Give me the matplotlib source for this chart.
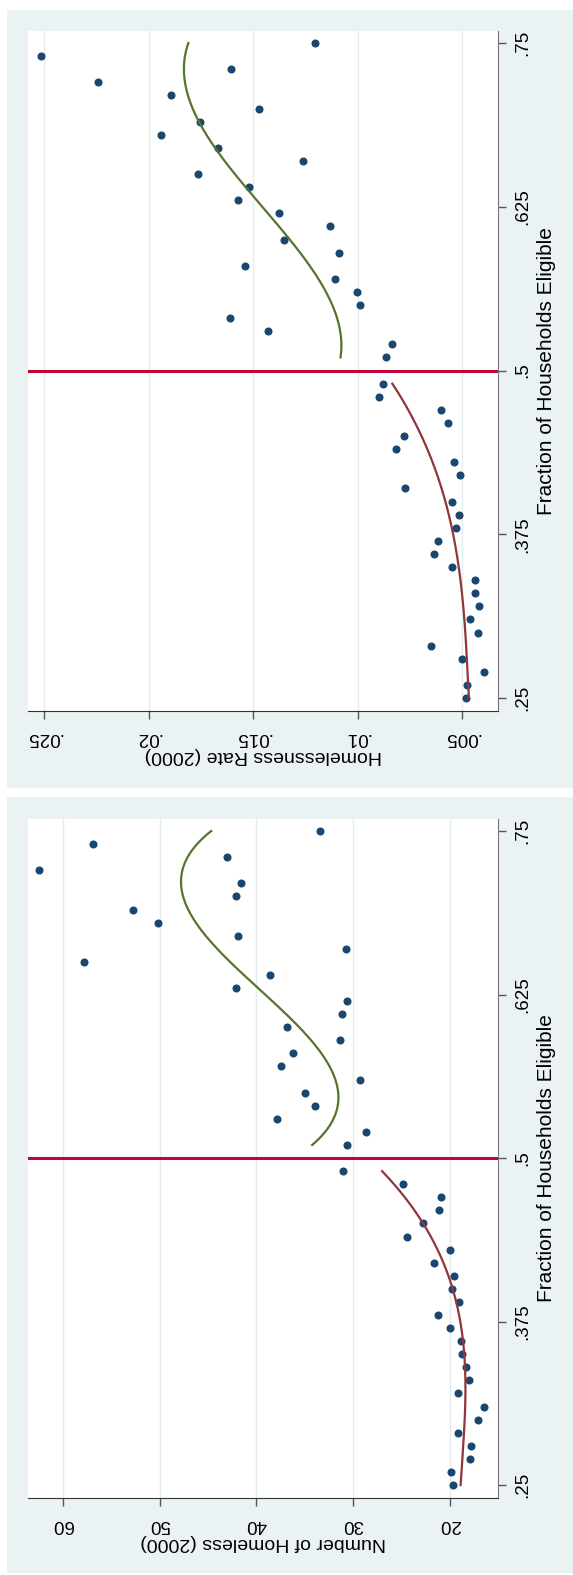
import matplotlib
matplotlib.use("Agg")
import matplotlib.pyplot as plt
from matplotlib.patches import Rectangle
import numpy as np

plt.rcParams['font.family'] = ['Liberation Sans', 'DejaVu Sans']

# fraction of households eligible (bins)
frac_below = [0.25, 0.26, 0.27, 0.28, 0.29, 0.30, 0.31, 0.32, 0.33, 0.34, 0.35, 0.36, 0.37,
              0.38, 0.39, 0.40, 0.41, 0.42, 0.43, 0.44, 0.45, 0.46, 0.47, 0.48, 0.49]
frac_above = [0.51, 0.52, 0.53, 0.54, 0.55, 0.56, 0.57, 0.58, 0.59, 0.60, 0.61, 0.62, 0.63,
              0.64, 0.65, 0.66, 0.67, 0.68, 0.69, 0.70, 0.71, 0.72, 0.73, 0.74, 0.75]

# homelessness rate (2000)
rate_below = [0.00483, 0.00474, 0.00393, 0.00500, 0.00648, 0.00425, 0.00463, 0.00420, 0.00439,
              0.00439, 0.00549, 0.00634, 0.00614, 0.00528, 0.00514, 0.00549, 0.00771, 0.00509,
              0.00540, 0.00818, 0.00779, 0.00565, 0.00601, 0.00898, 0.00879]
rate_above = [0.00862, 0.00835, 0.01426, 0.01609, 0.00987, 0.01001, 0.01110, 0.01538, 0.01087,
              0.01351, 0.01131, 0.01377, 0.01572, 0.01520, 0.01765, 0.01260, 0.01667, 0.01939,
              0.01752, 0.01473, 0.01894, 0.02243, 0.01607, 0.02517, 0.01204]

# number of homeless (2000)
num_below = [19.62, 19.89, 17.85, 17.81, 19.13, 17.06, 16.49, 19.13, 18.00, 18.30, 18.75, 18.87,
             19.96, 21.25, 19.02, 19.74, 19.58, 21.62, 19.96, 24.45, 22.75, 21.06, 20.87, 24.87,
             31.06]
num_above = [30.57, 28.68, 37.81, 33.89, 34.91, 29.25, 37.40, 36.23, 31.36, 36.79, 31.13, 30.57,
             42.11, 38.57, 57.85, 30.75, 41.92, 50.15, 52.75, 42.11, 41.58, 62.42, 43.06, 56.83,
             33.36]

frac_ticks = [0.25, 0.375, 0.5, 0.625, 0.75]
frac_ticklabels = ['.25', '.375', '.5', '.625', '.75']
rate_ticks = [0.005, 0.01, 0.015, 0.02, 0.025]
rate_ticklabels = ['.005', '.01', '.015', '.02', '.025']
num_ticks = [20, 30, 40, 50, 60]
num_ticklabels = ['20', '30', '40', '50', '60']

W, H = 573, 1575
fig = plt.figure(figsize=(W / 100, H / 100), dpi=100)
fig.patch.set_facecolor('white')

bg = '#eaf2f3'
dot = '#1a476f'
red_fit = '#90353b'
green_fit = '#55752f'
cutoff = '#c10534'

def px_axes(x0, y0, x1, y1):
    return fig.add_axes([x0 / W, 1 - y1 / H, (x1 - x0) / W, (y1 - y0) / H])

for (py0, py1) in [(10, 788), (797, 1573)]:
    fig.patches.append(Rectangle((7 / W, 1 - py1 / H), (W - 7) / W, (py1 - py0) / H,
                                 transform=fig.transFigure, facecolor=bg, edgecolor='none', zorder=-5))

def panel(ax, vals_below, vals_above, xlim, ticks, ticklabels, ylabel):
    ax.set_facecolor('white')
    xb, xa = np.array(frac_below), np.array(frac_above)
    vb, va = np.array(vals_below), np.array(vals_above)
    # cubic fits on each side of the cutoff
    gb = np.linspace(xb.min(), xb.max(), 200)
    ga = np.linspace(xa.min(), xa.max(), 200)
    fb = np.polyval(np.polyfit(xb, vb, 3), gb)
    fa = np.polyval(np.polyfit(xa, va, 3), ga)
    ax.plot(vb, xb, 'o', color=dot, ms=4.8, zorder=3)
    ax.plot(va, xa, 'o', color=dot, ms=4.8, zorder=3)
    ax.plot(fb, gb, color=red_fit, lw=1.6, zorder=4)
    ax.plot(fa, ga, color=green_fit, lw=1.6, zorder=4)
    ax.axhline(0.5, color=cutoff, lw=2.2, zorder=5)

    ax.set_xlim(*xlim)
    ax.set_ylim(0.2401, 0.7592)
    ax.set_xticks(ticks)
    ax.set_xticklabels(ticklabels, rotation=180, fontsize=13.5)
    ax.set_yticks(frac_ticks)
    ax.set_yticklabels(frac_ticklabels, rotation=90, fontsize=13.5, va='center')
    ax.yaxis.tick_right()
    ax.yaxis.set_label_position('right')
    ax.tick_params(axis='x', length=6, width=1, color='#555555', pad=7)
    ax.tick_params(axis='y', length=6, width=1, color='#555555', pad=6)
    ax.grid(axis='x', color='#e3ecef', lw=1.0, zorder=0)
    ax.set_axisbelow(True)
    for s in ['top', 'left']:
        ax.spines[s].set_visible(False)
    ax.spines['bottom'].set_color('#333333')
    ax.spines['right'].set_color('#777777')
    ax.set_xlabel(ylabel, rotation=180, fontsize=14, labelpad=1)
    ax.set_ylabel('Fraction of Households Eligible', rotation=90, fontsize=15, labelpad=4)

ax1 = px_axes(28, 31, 497.7, 711)
panel(ax1, rate_below, rate_above, (0.02577, 0.00329), rate_ticks, rate_ticklabels,
      'Homelessness Rate (2000)')

ax2 = px_axes(28, 819, 498, 1498)
panel(ax2, num_below, num_above, (63.6, 15.0), num_ticks, num_ticklabels,
      'Number of Homeless (2000)')

fig.savefig('out.png', dpi=100, facecolor=fig.get_facecolor())
